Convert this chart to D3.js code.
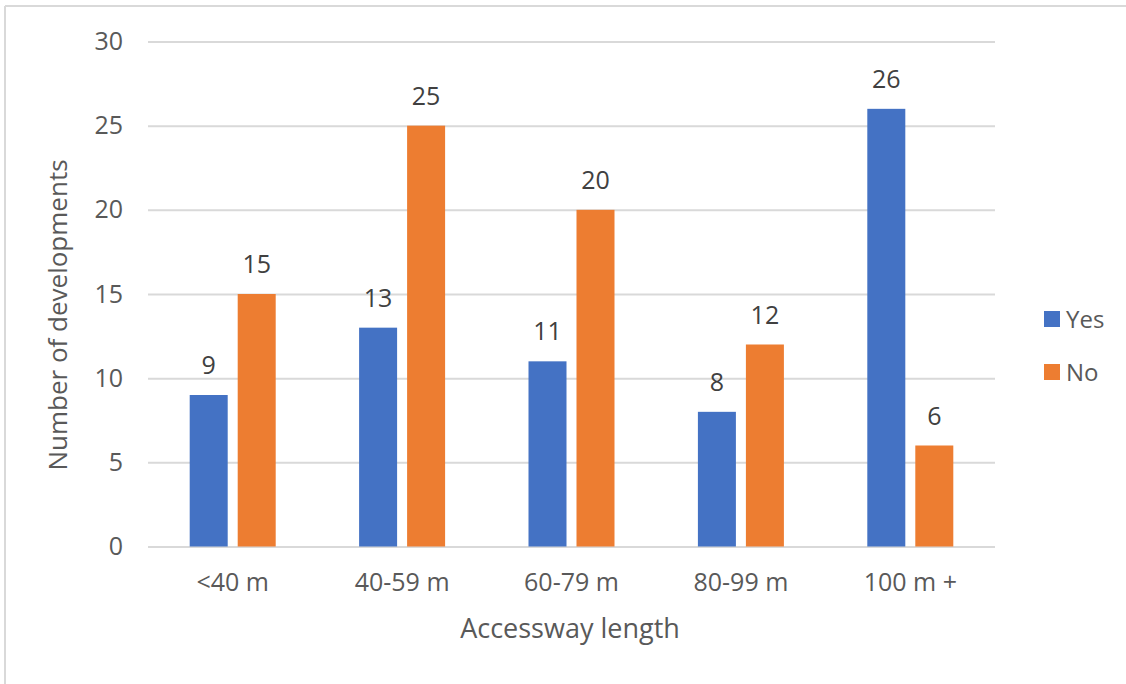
<!DOCTYPE html>
<html>
<head>
<meta charset="utf-8">
<script src="https://cdn.jsdelivr.net/npm/d3@7/dist/d3.min.js"></script>
<style>
  html, body { margin: 0; padding: 0; background: #fff; }
  svg { display: block; font-family: "Open Sans", "Noto Sans", sans-serif; }
</style>
</head>
<body>
<svg id="chart" width="1126" height="684"></svg>
<script>
// Developments by accessway length, split by Yes / No
const categories = ["<40 m", "40-59 m", "60-79 m", "80-99 m", "100 m +"];
const seriesNames = ["Yes", "No"];
const yesValues = [9, 13, 11, 8, 26];
const noValues = [15, 25, 20, 12, 6];
const yTicks = [0, 5, 10, 15, 20, 25, 30];
const colors = { Yes: "#4472C4", No: "#ED7D31" };

const svg = d3.select("#chart");
const W = 1126, H = 684;
const plot = { left: 148, right: 995, top: 41.5, bottom: 546.5 };

// outer frame (top and left edges visible)
svg.append("line").attr("x1", 5).attr("x2", W).attr("y1", 6).attr("y2", 6)
  .attr("stroke", "#d9d9d9").attr("stroke-width", 2);
svg.append("line").attr("x1", 5).attr("x2", 5).attr("y1", 6).attr("y2", H)
  .attr("stroke", "#d9d9d9").attr("stroke-width", 2);

const x = d3.scaleBand().domain(categories).range([plot.left, plot.right]).padding(0);
const groupWidth = 86;
const x1 = d3.scaleBand().domain(seriesNames).range([0, groupWidth]).paddingInner(10 / 48).paddingOuter(0);
const y = d3.scaleLinear().domain([0, 30]).range([plot.bottom, plot.top]);

// gridlines and y tick labels
const yAxis = d3.axisLeft(y).tickValues(yTicks).tickSize(-(plot.right - plot.left)).tickPadding(25);
const gy = svg.append("g").attr("transform", `translate(${plot.left},0)`).call(yAxis);
gy.select(".domain").remove();
gy.selectAll(".tick line").attr("stroke", "#d9d9d9").attr("stroke-width", 2);
gy.selectAll(".tick text").attr("fill", "#595959").style("font-size", "25px")
  .attr("font-family", "\"Open Sans\", sans-serif");

// x category labels
const xAxis = d3.axisBottom(x).tickSize(0).tickPadding(27);
const gx = svg.append("g").attr("transform", `translate(0,${plot.bottom})`).call(xAxis);
gx.select(".domain").remove();
gx.selectAll(".tick text").attr("fill", "#595959").style("font-size", "25px")
  .attr("font-family", "\"Open Sans\", sans-serif");

const rows = categories.map((c, i) => ({ category: c, Yes: yesValues[i], No: noValues[i] }));

const groups = svg.append("g").selectAll("g").data(rows).join("g")
  .attr("transform", d => `translate(${x(d.category) + x.bandwidth() / 2 - groupWidth / 2},0)`);

groups.selectAll("rect").data(d => seriesNames.map(s => ({ key: s, value: d[s] }))).join("rect")
  .attr("x", d => x1(d.key))
  .attr("width", x1.bandwidth())
  .attr("y", d => y(d.value))
  .attr("height", d => y(0) - y(d.value))
  .attr("fill", d => colors[d.key]);

// value labels above bars
groups.selectAll("text.val").data(d => seriesNames.map(s => ({ key: s, value: d[s] }))).join("text")
  .attr("class", "val")
  .attr("x", d => x1(d.key) + x1.bandwidth() / 2)
  .attr("y", d => y(d.value) - 21)
  .attr("text-anchor", "middle")
  .attr("fill", "#404040")
  .style("font-size", "25px")
  .text(d => d.value);

// axis titles
svg.append("text")
  .attr("x", 570)
  .attr("y", 638)
  .attr("text-anchor", "middle")
  .attr("fill", "#595959")
  .style("font-size", "27px")
  .text("Accessway length");

svg.append("text")
  .attr("transform", `translate(67,315) rotate(-90)`)
  .attr("text-anchor", "middle")
  .attr("fill", "#595959")
  .style("font-size", "26px")
  .text("Number of developments");

// legend
const legend = svg.append("g").selectAll("g").data(seriesNames).join("g")
  .attr("transform", (d, i) => `translate(1044,${311 + i * 53})`);
legend.append("rect").attr("width", 16).attr("height", 16).attr("fill", d => colors[d]);
legend.append("text").attr("x", 22).attr("y", 17).attr("fill", "#595959")
  .style("font-size", "24px").text(d => d);
</script>
</body>
</html>
